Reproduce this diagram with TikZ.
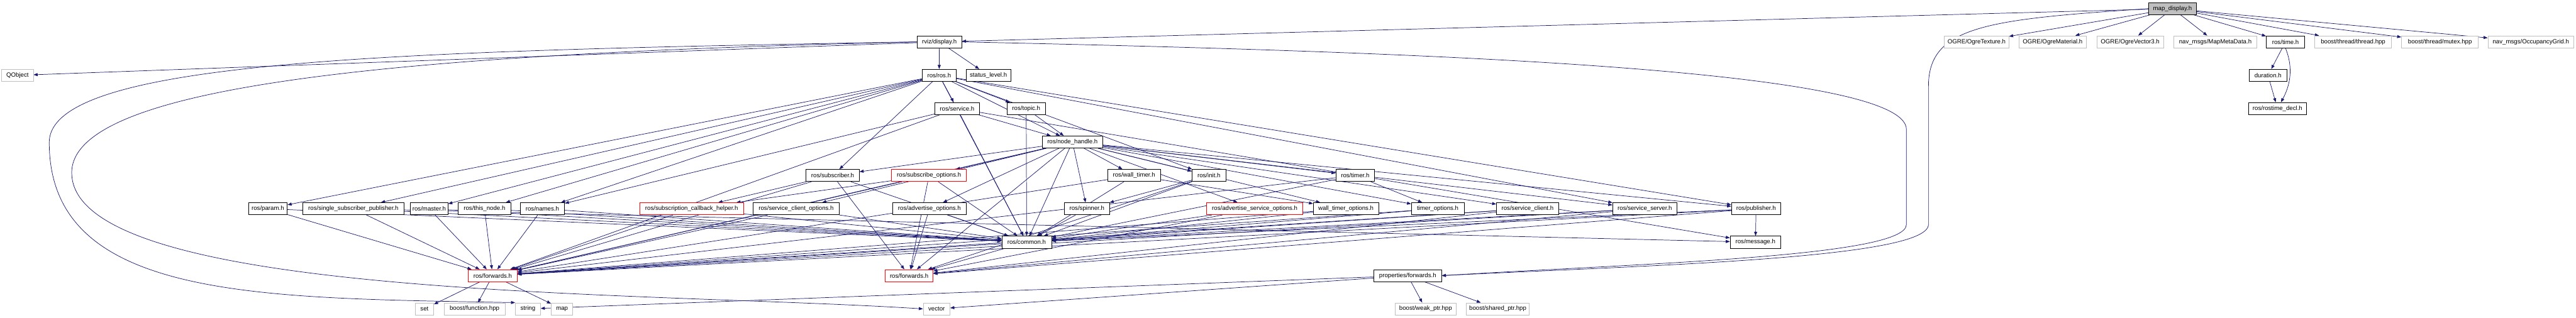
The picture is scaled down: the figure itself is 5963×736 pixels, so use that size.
\documentclass[tikz,border=0pt]{standalone}
\usepackage{fontspec}
\setsansfont{Liberation Sans}
\usetikzlibrary{arrows.meta,backgrounds}
\definecolor{edgeBlue}{HTML}{191970}
\definecolor{extGrey}{HTML}{BFBFBF}
\tikzset{
  >={Triangle[length=0.19cm,width=0.14cm]},
  every node/.style={font=\sffamily\fontsize{8}{9}\selectfont},
  hdr/.style={draw=black, fill=white, line width=0.6pt, minimum height=0.56cm, inner xsep=1pt, inner ysep=0pt},
  exthdr/.style={hdr, draw=extGrey},
  cuthdr/.style={hdr, draw=red},
  roothdr/.style={hdr, fill=extGrey},
  bw/.style={minimum width=#1*0.02cm},
  dep/.style={->, draw=edgeBlue, line width=0.6pt},
}

\begin{document}
\begin{tikzpicture}[x=0.02cm, y=-0.02cm]
  \useasboundingbox (0,0) rectangle (5963,736);

  % ── root ──
  \node[roothdr, bw=110] (mapdisp) at (5029,20) {map\_display.h};

  % ── direct includes of map_display.h ──
  \node[hdr,    bw=103] (rvizdisp) at (2174.5,97) {rviz/display.h};
  \node[exthdr, bw=149] (ogretex)  at (4575.5,97) {OGRE/OgreTexture.h};
  \node[exthdr, bw=155] (ogremat)  at (4751.5,97) {OGRE/OgreMaterial.h};
  \node[exthdr, bw=154] (ogrevec)  at (4931,97)   {OGRE/OgreVector3.h};
  \node[exthdr, bw=192] (mapmeta)  at (5128,97)   {nav\_msgs/MapMetaData.h};
  \node[hdr,    bw=89]  (rostime)  at (5290.5,97) {ros/time.h};
  \node[exthdr, bw=178] (thread)   at (5447,97)   {boost/thread/thread.hpp};
  \node[exthdr, bw=178] (mutex)    at (5648,97)   {boost/thread/mutex.hpp};
  \node[exthdr, bw=199] (occgrid)  at (5858.5,97) {nav\_msgs/OccupancyGrid.h};

  % ── third level ──
  \node[exthdr, bw=73]  (qobject)   at (40.5,174.5) {QObject};
  \node[hdr,    bw=78]  (rosros)    at (2174,174.5) {ros/ros.h};
  \node[hdr,    bw=104] (statuslvl) at (2288,174.5) {status\_level.h};
  \node[hdr,    bw=88]  (duration)  at (5250,174.5) {duration.h};

  \node[hdr, bw=103] (service)     at (2215.5,251.5) {ros/service.h};
  \node[hdr, bw=89]  (topic)       at (2375.5,251.5) {ros/topic.h};
  \node[hdr, bw=135] (rostimedecl) at (5272,251.5)   {ros/rostime\_decl.h};

  \node[hdr, bw=139] (nodehandle) at (2482.5,329) {ros/node\_handle.h};

  % ── roscpp headers ──
  \node[hdr,    bw=123] (subscriber) at (1927.5,406.5) {ros/subscriber.h};
  \node[cuthdr, bw=173] (subopts)    at (2150.5,406.5) {ros/subscribe\_options.h};
  \node[hdr,    bw=122] (walltimer)  at (2625,406.5)   {ros/wall\_timer.h};
  \node[hdr,    bw=79]  (init)       at (2798.5,406.5) {ros/init.h};
  \node[hdr,    bw=90]  (timer)      at (3137,406.5)   {ros/timer.h};

  \node[hdr,    bw=90]  (param)         at (620,483.5)    {ros/param.h};
  \node[hdr,    bw=235] (singlesub)     at (818,483.5)    {ros/single\_subscriber\_publisher.h};
  \node[hdr,    bw=87]  (master)        at (993.5,483.5)  {ros/master.h};
  \node[hdr,    bw=121] (thisnode)      at (1121.5,483.5) {ros/this\_node.h};
  \node[hdr,    bw=103] (names)         at (1255.5,483.5) {ros/names.h};
  \node[cuthdr, bw=240] (subcbhelper)   at (1601,483.5)   {ros/subscription\_callback\_helper.h};
  \node[hdr,    bw=200] (srvclientopts) at (1843,483.5)   {ros/service\_client\_options.h};
  \node[hdr,    bw=171] (advopts)       at (2151.5,483.5) {ros/advertise\_options.h};
  \node[hdr,    bw=104] (spinner)       at (2516,483.5)   {ros/spinner.h};
  \node[cuthdr, bw=223] (advsrvopts)    at (2904.5,483.5) {ros/advertise\_service\_options.h};
  \node[hdr,    bw=151] (walltimeropts) at (3115.5,483.5) {wall\_timer\_options.h};
  \node[hdr,    bw=122] (timeropts)     at (3328,483.5)   {timer\_options.h};
  \node[hdr,    bw=144] (srvclient)     at (3536,483.5)   {ros/service\_client.h};
  \node[hdr,    bw=149] (srvserver)     at (3807.5,483.5) {ros/service\_server.h};
  \node[hdr,    bw=114] (publisher)     at (4065,483.5)   {ros/publisher.h};

  \node[hdr, bw=115] (common)  at (2376.5,561) {ros/common.h};
  \node[hdr, bw=117] (message) at (4063.5,561) {ros/message.h};

  \node[cuthdr, bw=113] (fwdA)    at (1140.5,638.5) {ros/forwards.h};
  \node[cuthdr, bw=111] (fwdB)    at (2104.5,638.5) {ros/forwards.h};
  \node[hdr,    bw=157] (propfwd) at (3258.5,638.5) {properties/forwards.h};

  % ── system / boost leaves ──
  \node[exthdr, bw=43]  (set)       at (982.5,715.5)  {set};
  \node[exthdr, bw=141] (function)  at (1098.5,715.5) {boost/function.hpp};
  \node[exthdr, bw=58]  (string)    at (1222,715.5)   {string};
  \node[exthdr, bw=50]  (map)       at (1301,715.5)   {map};
  \node[exthdr, bw=62]  (vector)    at (2168,715.5)   {vector};
  \node[exthdr, bw=140] (weakptr)   at (3300,715.5)   {boost/weak\_ptr.hpp};
  \node[exthdr, bw=145] (sharedptr) at (3467,715.5)   {boost/shared\_ptr.hpp};

  \begin{scope}[on background layer]
    % ── map_display.h ──
    \foreach \t in {rvizdisp,ogretex,ogremat,ogrevec,mapmeta,rostime,thread,mutex,occgrid}
      \draw[dep] (mapdisp) -- (\t);
    \draw[dep] (mapdisp.west) .. controls (4600,45) and (4464,60) .. (4464,200)
      -- (4464,520) .. controls (4464,600) and (3800,615) .. (propfwd.east);

    % ── rviz/display.h ──
    \foreach \t in {qobject,rosros,statuslvl}
      \draw[dep] (rvizdisp) -- (\t);
    \draw[dep] (rvizdisp.west) .. controls (900,118) and (114,140) .. (114,330)
      .. controls (114,695) and (600,690) .. (string.north west);
    \draw[dep] (rvizdisp.west) .. controls (900,125) and (166,200) .. (166,400)
      .. controls (166,695) and (1500,675) .. (vector.west);
    \draw[dep] (rvizdisp.east) .. controls (3300,120) and (4413,160) .. (4413,300)
      -- (4413,520) .. controls (4413,595) and (3800,610) .. (propfwd.east);

    % ── rostime ──
    \draw[dep] (rostime) -- (duration);
    \draw[dep] (rostime.south) .. controls (5310,160) and (5300,200) .. (rostimedecl);
    \draw[dep] (duration) -- (rostimedecl);

    % ── ros/ros.h ──
    \foreach \t in {service,topic,nodehandle,subscriber,init,param,singlesub,master,thisnode,names,publisher,srvserver,common}
      \draw[dep] (rosros) -- (\t);

    % ── service / topic ──
    \foreach \t in {nodehandle,common,message,names,fwdA}
      \draw[dep] (service) -- (\t);
    \foreach \t in {nodehandle,common}
      \draw[dep] (topic) -- (\t);

    % ── node_handle.h ──
    \foreach \t in {subscriber,subopts,advopts,srvclientopts,walltimer,init,timer,spinner,advsrvopts,walltimeropts,timeropts,srvclient,srvserver,publisher,common,fwdA,fwdB}
      \draw[dep] (nodehandle) -- (\t);

    % ── second-rank includes ──
    \draw[dep] (subscriber) -- (subcbhelper);
    \draw[dep] (subopts) -- (subcbhelper);
    \draw[dep] (walltimer) -- (walltimeropts);
    \draw[dep] (init) -- (spinner);
    \draw[dep] (timer) -- (timeropts);
    \draw[dep] (publisher) -- (message);
    \draw[dep] (singlesub) -- (message);

    % ── everything leans on ros/common.h ──
    \foreach \s in {subscriber,subopts,walltimer,init,timer,param,singlesub,master,thisnode,names,subcbhelper,srvclientopts,advopts,spinner,advsrvopts,walltimeropts,timeropts,srvclient,srvserver,publisher}
      \draw[dep] (\s) -- (common);

    % ── and on the two ros/forwards.h ──
    \foreach \s in {subscriber,subopts,walltimer,timer,param,singlesub,master,thisnode,names,subcbhelper,srvclientopts,walltimeropts,timeropts,srvclient,srvserver,publisher,common}
      \draw[dep] (\s) -- (fwdA);
    \foreach \s in {subscriber,subopts,init,advopts,advsrvopts,srvclient,srvserver,publisher,common}
      \draw[dep] (\s) -- (fwdB);

    % ── leaves ──
    \foreach \t in {set,map,function}
      \draw[dep] (fwdA) -- (\t);
    \foreach \t in {string,vector,weakptr,sharedptr}
      \draw[dep] (propfwd) -- (\t);
  \end{scope}
\end{tikzpicture}
\end{document}
